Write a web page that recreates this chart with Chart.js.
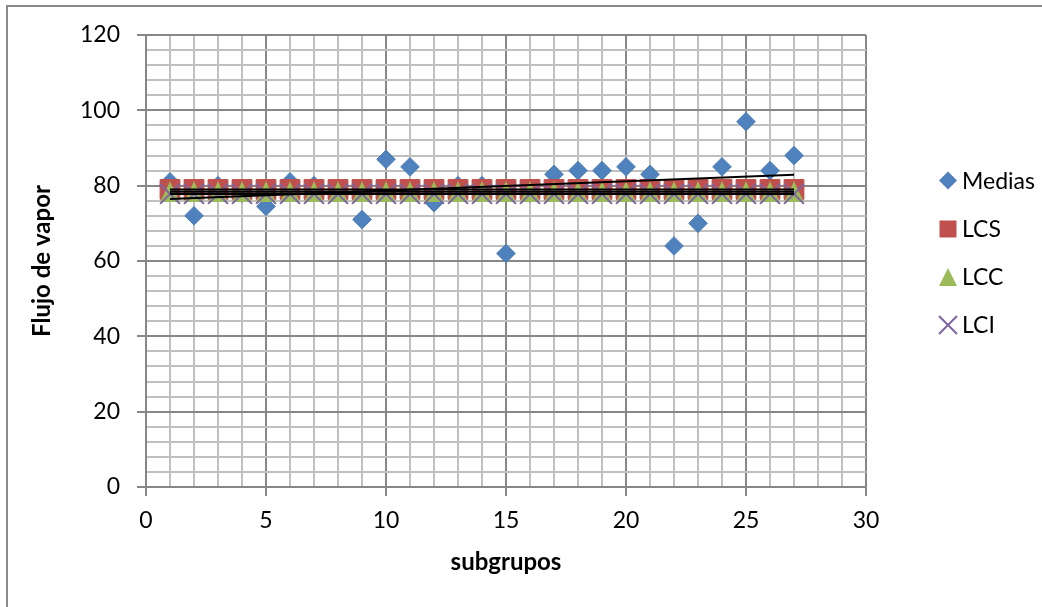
<!DOCTYPE html>
<html>
<head>
<meta charset="utf-8">
<script src="https://cdn.jsdelivr.net/npm/chart.js@4/dist/chart.umd.min.js"></script>
<style>
html,body{margin:0;padding:0;background:#fff;}
#wrap{width:1042px;height:607px;position:relative;}
</style>
</head>
<body>
<div id="wrap"><canvas id="c" width="1042" height="607"></canvas></div>
<script>
// ---- data ----
const subgrupos = [1,2,3,4,5,6,7,8,9,10,11,12,13,14,15,16,17,18,19,20,21,22,23,24,25,26,27];
const medias = [81,72,80,78,74.5,81,80,79,71,87,85,75.5,80,80,62,78,83,84,84,85,83,64,70,85,97,84,88];
const lcs = [79,79,79,79,79,79,79,79,79,79,79,79,79,79,79,79,79,79,79,79,79,79,79,79,79,79,79];
const lcc = [78.4,78.4,78.4,78.4,78.4,78.4,78.4,78.4,78.4,78.4,78.4,78.4,78.4,78.4,78.4,78.4,78.4,78.4,78.4,78.4,78.4,78.4,78.4,78.4,78.4,78.4,78.4];
const lci = [77.8,77.8,77.8,77.8,77.8,77.8,77.8,77.8,77.8,77.8,77.8,77.8,77.8,77.8,77.8,77.8,77.8,77.8,77.8,77.8,77.8,77.8,77.8,77.8,77.8,77.8,77.8];
const seriesNames = ['Medias','LCS','LCC','LCI'];
const xTickLabels = [0,5,10,15,20,25,30];
const yTickLabels = [0,20,40,60,80,100,120];
const xTitle = 'subgrupos';
const yTitle = 'Flujo de vapor';

// ---- styles ----
const FONT = "Lato, Carlito, 'Liberation Sans', sans-serif";
const MAJ = '#878787';
const MIN = '#c0c0c0';
const COLORS = {Medias:'#4F81BD', LCS:'#C0504D', LCC:'#9BBB59', LCI:'#8064A2'};

function pts(ys){ return subgrupos.map((x,i)=>({x:x, y:ys[i]})); }
// least-squares linear trendline through a series
function trend(ys){
  const n = subgrupos.length;
  let sx=0, sy=0, sxx=0, sxy=0;
  for(let i=0;i<n;i++){ const x=subgrupos[i], y=ys[i]; sx+=x; sy+=y; sxx+=x*x; sxy+=x*y; }
  const b = (n*sxy - sx*sy)/(n*sxx - sx*sx);
  const a = (sy - b*sx)/n;
  const x0 = subgrupos[0], x1 = subgrupos[n-1];
  return [{x:x0, y:a+b*x0},{x:x1, y:a+b*x1}];
}
function makeTriangle(w,h,color){
  const c=document.createElement('canvas'); c.width=w; c.height=h;
  const g=c.getContext('2d'); g.fillStyle=color;
  g.beginPath(); g.moveTo(w/2,0); g.lineTo(w,h); g.lineTo(0,h); g.closePath(); g.fill();
  return c;
}

const bgBorder = {
  id:'bgBorder',
  beforeDraw(chart){
    const g=chart.ctx; g.save();
    g.fillStyle='#fff'; g.fillRect(0,0,chart.width,chart.height);
    g.strokeStyle='#8a8a8a'; g.lineWidth=2;
    g.strokeRect(7,6,chart.width+50,chart.height+50);
    g.restore();
  }
};

const legendLayout = {markerX:948, textX:962, ys:[180.5,229,277,325], size:18};
const customLegend = {
  id:'customLegend',
  afterDraw(chart){
    const g=chart.ctx; g.save();
    const L=legendLayout, s=L.size/2;
    seriesNames.forEach((name,i)=>{
      const cx=L.markerX, cy=L.ys[i], col=COLORS[name];
      g.fillStyle=col; g.strokeStyle=col;
      g.beginPath();
      if(name==='Medias'){ g.moveTo(cx,cy-s); g.lineTo(cx+s,cy); g.lineTo(cx,cy+s); g.lineTo(cx-s,cy); g.closePath(); g.fill(); }
      else if(name==='LCS'){ g.fillRect(cx-8.5,cy-8.5,17,17); }
      else if(name==='LCC'){ g.moveTo(cx,cy-s); g.lineTo(cx+s,cy+s); g.lineTo(cx-s,cy+s); g.closePath(); g.fill(); }
      else { g.lineWidth=2; g.moveTo(cx-s,cy-s); g.lineTo(cx+s,cy+s); g.moveTo(cx+s,cy-s); g.lineTo(cx-s,cy+s); g.stroke(); }
      g.fillStyle='#000'; g.font='23px '+FONT; g.textAlign='left'; g.textBaseline='middle';
      g.fillText(name, L.textX, cy+1);
    });
    g.restore();
  }
};

function draw(){
  Chart.defaults.font.family = FONT;
  Chart.defaults.color = '#000';
  const tri = makeTriangle(20,21,COLORS.LCC);
  const trendStyle = {showLine:true, pointRadius:0, pointHoverRadius:0, borderColor:'#000', borderWidth:2, fill:false, order:0};
  new Chart(document.getElementById('c'), {
    type:'scatter',
    data:{datasets:[
      {label:seriesNames[0], data:pts(medias), pointStyle:'rectRot', pointRadius:9.3, pointHoverRadius:9.3, backgroundColor:COLORS.Medias, borderColor:COLORS.Medias, borderWidth:1, order:4},
      {label:seriesNames[1], data:pts(lcs), pointStyle:'rect', pointRadius:14, pointHoverRadius:14, backgroundColor:COLORS.LCS, borderColor:COLORS.LCS, borderWidth:1, order:3},
      {label:seriesNames[2], data:pts(lcc), pointStyle:tri, pointRadius:10, pointHoverRadius:10, backgroundColor:COLORS.LCC, borderColor:COLORS.LCC, order:2},
      {label:seriesNames[3], data:pts(lci), pointStyle:'crossRot', pointRadius:14, pointHoverRadius:14, backgroundColor:COLORS.LCI, borderColor:COLORS.LCI, borderWidth:2, order:1},
      Object.assign({label:'t1', data:trend(medias)}, trendStyle),
      Object.assign({label:'t2', data:trend(lcs)}, trendStyle),
      Object.assign({label:'t3', data:trend(lcc)}, trendStyle),
      Object.assign({label:'t4', data:trend(lci)}, trendStyle)
    ]},
    options:{
      responsive:false, animation:false, devicePixelRatio:1,
      layout:{padding:{left:0, top:35, right:176, bottom:0}},
      plugins:{legend:{display:false}, tooltip:{enabled:false}},
      scales:{
        x:{
          type:'linear', position:'bottom', min:0, max:30,
          afterFit(s){ s.height=120; },
          ticks:{stepSize:1, autoSkip:false, maxRotation:0, padding:11, font:{size:23}, color:'#000',
            callback:(v)=> xTickLabels.includes(v) ? String(v) : ''},
          grid:{lineWidth:2, tickLength:9, drawTicks:true,
            color:(c)=> (c.tick && xTickLabels.includes(c.tick.value)) ? MAJ : MIN,
            tickColor:(c)=> (c.tick && xTickLabels.includes(c.tick.value)) ? MAJ : 'rgba(0,0,0,0)'},
          border:{color:MAJ, width:2},
          title:{display:true, text:xTitle, color:'#000', font:{size:24, weight:'bold'}, padding:{top:0, bottom:30}}
        },
        y:{
          type:'linear', position:'left', min:0, max:120,
          afterFit(s){ s.width=146; },
          ticks:{stepSize:4, autoSkip:false, padding:17, font:{size:23}, color:'#000',
            callback:(v)=> yTickLabels.includes(v) ? String(v) : ''},
          grid:{lineWidth:2, tickLength:9, drawTicks:true,
            color:(c)=> (c.tick && yTickLabels.includes(c.tick.value)) ? MAJ : MIN,
            tickColor:(c)=> (c.tick && yTickLabels.includes(c.tick.value)) ? MAJ : 'rgba(0,0,0,0)'},
          border:{color:MAJ, width:2},
          title:{display:true, text:yTitle, color:'#000', font:{size:24, weight:'bold'}, padding:{top:28, bottom:0}}
        }
      }
    },
    plugins:[bgBorder, customLegend]
  });
}
if (document.fonts && document.fonts.load) {
  Promise.all([document.fonts.load('23px Lato'), document.fonts.load('bold 24px Lato')]).then(draw, draw);
} else { draw(); }
</script>
</body>
</html>
